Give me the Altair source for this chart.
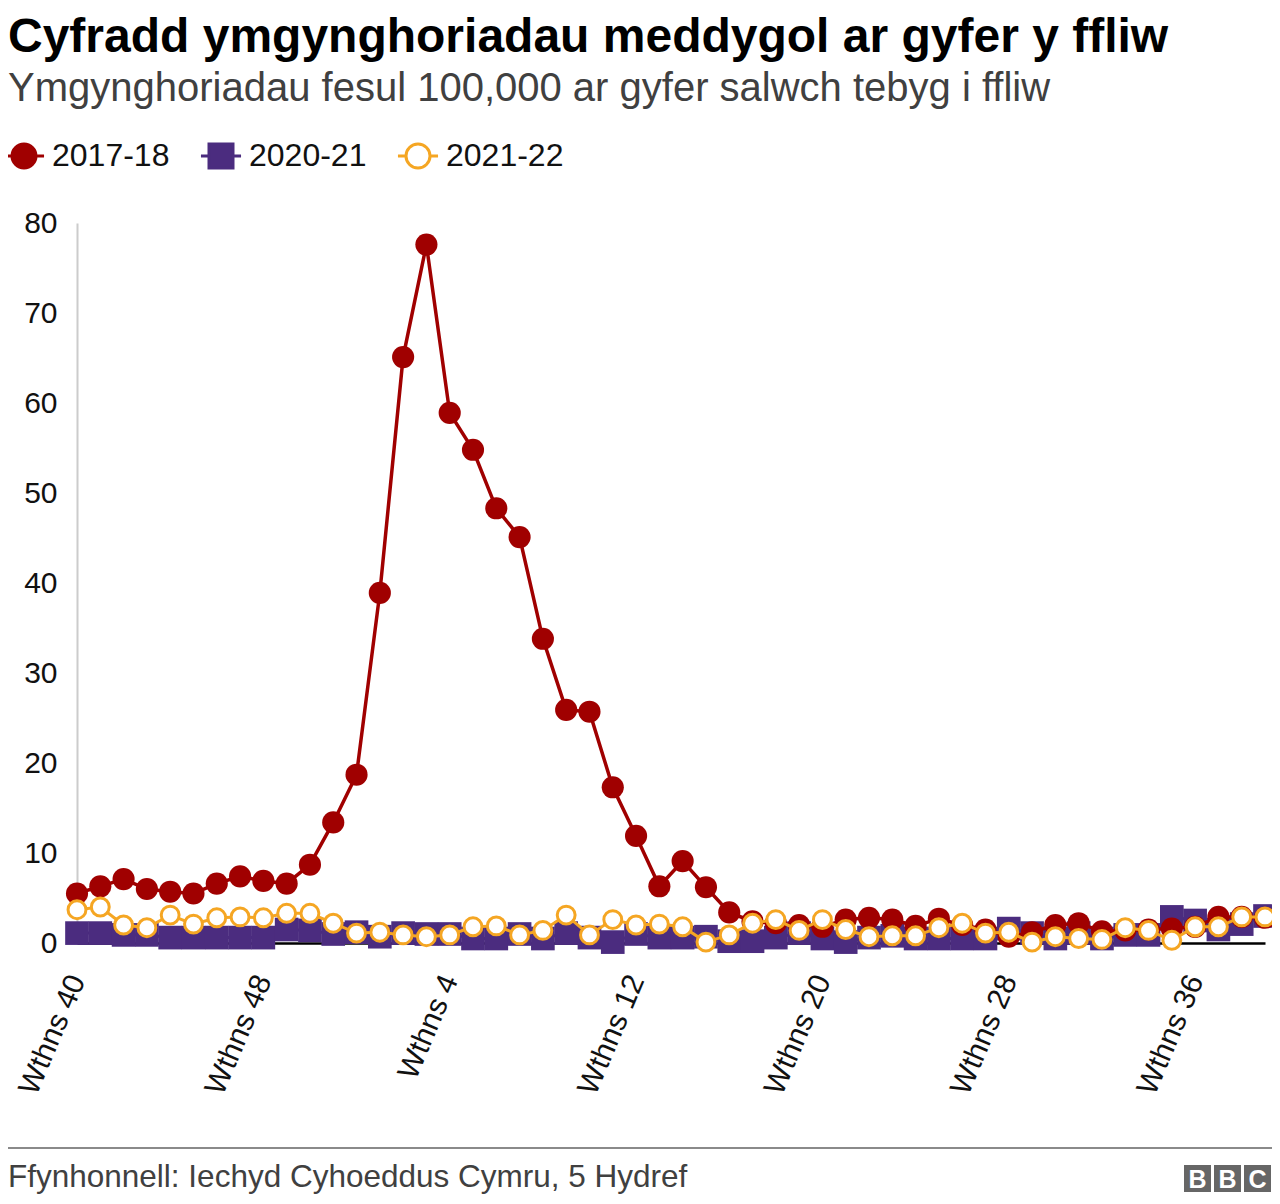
import altair as alt
import pandas as pd

# ---- data ----
weeks = list(range(40, 53)) + list(range(1, 40))
week_labels = [f"Wthns {w}" for w in weeks]
tick_labels = ["Wthns 40", "Wthns 48", "Wthns 4", "Wthns 12", "Wthns 20", "Wthns 28", "Wthns 36"]

series_names = ["2017-18", "2020-21", "2021-22"]

s2017 = [5.5, 6.3, 7.1, 6.0, 5.7, 5.5, 6.6, 7.4, 6.9, 6.6,
         8.7, 13.4, 18.7, 38.9, 65.1, 77.6, 58.9, 54.8, 48.3, 45.1,
         33.8, 25.9, 25.7, 17.3, 11.9, 6.3, 9.1, 6.2, 3.4, 2.4,
         2.2, 2.0, 1.8, 2.6, 2.8, 2.6, 1.9, 2.7, 2.0, 1.5,
         0.7, 1.2, 2.0, 2.2, 1.3, 1.4, 1.5, 1.6, 1.8, 2.9,
         2.9, 2.8]
s2020 = [1.1, 1.1, 0.9, 0.9, 0.6, 0.6, 0.6, 0.6, 0.6, 1.5,
         1.4, 1.0, 1.2, 0.7, 1.1, 1.0, 1.0, 0.5, 0.5, 1.0,
         0.5, 1.1, 0.6, 0.1, 1.0, 0.6, 0.6, 0.7, 0.2, 0.2,
         0.6, 1.1, 0.5, 0.1, 0.6, 0.8, 0.5, 0.5, 0.5, 0.5,
         1.6, 1.1, 0.5, 1.1, 0.5, 0.9, 0.9, 2.9, 2.5, 1.5,
         2.1, 3.0]
s2021 = [3.7, 4.0, 2.0, 1.7, 3.1, 2.1, 2.8, 2.9, 2.8, 3.3,
         3.3, 2.2, 1.1, 1.2, 0.9, 0.7, 0.9, 1.8, 1.9, 0.9,
         1.4, 3.1, 0.9, 2.6, 2.0, 2.1, 1.8, 0.1, 0.9, 2.2,
         2.6, 1.4, 2.6, 1.5, 0.7, 0.8, 0.8, 1.7, 2.2, 1.1,
         1.2, 0.1, 0.7, 0.5, 0.4, 1.7, 1.4, 0.3, 1.8, 1.8,
         2.9, 2.9]

title_text = "Cyfradd ymgynghoriadau meddygol ar gyfer y ffliw"
subtitle_text = "Ymgynghoriadau fesul 100,000 ar gyfer salwch tebyg i ffliw"
source_text = "Ffynhonnell: Iechyd Cyhoeddus Cymru, 5 Hydref"
logo_letters = ["B", "B", "C"]

# ---- styling ----
RED = "#a00000"
PURPLE = "#4b2c7f"
YELLOW = "#f5a623"
FONT = "Liberation Sans"

W, H = 1188, 720

rows = []
for name, vals in zip(series_names, [s2017, s2020, s2021]):
    for lab, v in zip(week_labels, vals):
        rows.append({"week": lab, "series": name, "value": v})
df = pd.DataFrame(rows)

x_enc = alt.X("week:O", sort=week_labels,
              scale=alt.Scale(type="point", padding=0),
              axis=alt.Axis(values=tick_labels, title=None, labelAngle=-67,
                            labelAlign="right", labelBaseline="middle",
                            labelFontSize=30, labelColor="#111111", labelFont=FONT,
                            labelPadding=33, ticks=False, grid=False,
                            domainColor="#000000", domainWidth=2.5))
y_enc = alt.Y("value:Q", scale=alt.Scale(domain=[0, 80], nice=False),
              axis=alt.Axis(values=list(range(0, 90, 10)), title=None,
                            labelFontSize=30, labelColor="#111111", labelFont=FONT,
                            labelPadding=20, ticks=False, grid=False,
                            domainColor="#cccccc", domainWidth=2))

base = alt.Chart(df).encode(x=x_enc, y=y_enc)

circle_path = "M-1.67,0H-1M1,0H1.67M-1,0A1,1,0,1,1,1,0A1,1,0,1,1,-1,0Z"
square_path = "M-1.67,0H-1M1,0H1.67M-1,-1H1V1H-1Z"

legend_layer = base.mark_point(filled=True, opacity=0, size=10).encode(
    shape=alt.Shape("series:N", scale=alt.Scale(domain=series_names,
                    range=[circle_path, square_path, circle_path]), legend=alt.Legend(title=None)),
    fill=alt.Fill("series:N", scale=alt.Scale(domain=series_names,
                  range=[RED, PURPLE, "#ffffff"]), legend=alt.Legend(title=None)),
    stroke=alt.Stroke("series:N", scale=alt.Scale(domain=series_names,
                      range=[RED, PURPLE, YELLOW]), legend=alt.Legend(title=None)),
)

f2020 = alt.datum.series == "2020-21"
f2017 = alt.datum.series == "2017-18"
f2021 = alt.datum.series == "2021-22"

p_line = base.transform_filter(f2020).mark_line(color=PURPLE, strokeWidth=3)
p_pts = base.transform_filter(f2020).mark_square(color=PURPLE, size=560, opacity=1)
r_line = base.transform_filter(f2017).mark_line(color=RED, strokeWidth=3.5)
r_pts = base.transform_filter(f2017).mark_circle(color=RED, size=490, opacity=1)
y_line = base.transform_filter(f2021).mark_line(color=YELLOW, strokeWidth=3)
y_pts = base.transform_filter(f2021).mark_point(shape="circle", filled=True, fill="#ffffff",
                                                stroke=YELLOW, strokeWidth=3, size=320, opacity=1)

# ---- footer ----
footer_rule = alt.Chart(pd.DataFrame({"k": [0]})).mark_rule(color="#8a8a8a", strokeWidth=2).encode(
    x=alt.value(-69), x2=alt.value(1195), y=alt.value(925))
footer_text = alt.Chart(pd.DataFrame({"t": [source_text]})).mark_text(
    align="left", baseline="middle", fontSize=31.5, font=FONT, color="#404040").encode(
    text="t:N", x=alt.value(-69), y=alt.value(955))

logo_layers = []
box_left = [1107, 1137, 1167]
for letter, bx in zip(logo_letters, box_left):
    ld = pd.DataFrame({"letter": [letter]})
    logo_layers.append(alt.Chart(ld).mark_rect(color="#666666").encode(
        x=alt.value(bx), x2=alt.value(bx + 27), y=alt.value(942), y2=alt.value(969)))
    logo_layers.append(alt.Chart(ld).mark_text(
        fontSize=25, fontWeight="bold", font=FONT, color="#ffffff",
        baseline="middle", align="center").encode(
        text="letter:N", x=alt.value(bx + 13.5), y=alt.value(956.5)))

chart = alt.layer(
    legend_layer, p_line, p_pts, r_line, r_pts, y_line, y_pts,
    footer_rule, footer_text, *logo_layers,
).properties(
    width=W, height=H,
    autosize=alt.AutoSizeParams(type="none"),
    padding={"left": 69, "top": 215, "right": 7, "bottom": 253},
    title=alt.Title(text=title_text, subtitle=subtitle_text, anchor="start", frame="group",
                    dx=-69, fontSize=48, fontWeight="bold", font=FONT, color="#000000",
                    subtitleFontSize=40, subtitleFont=FONT, subtitleColor="#404040",
                    subtitlePadding=7, offset=31),
).configure_view(stroke=None).configure_legend(
    orient="none", legendX=-69, legendY=-83, direction="horizontal",
    symbolSize=576, symbolStrokeWidth=3, symbolOpacity=1,
    labelFontSize=32, labelFont=FONT, labelColor="#111111", labelOffset=12,
    columnPadding=24, padding=0, labelLimit=300,
)

chart.save("out.html", embed_options={"renderer": "svg", "actions": False})
